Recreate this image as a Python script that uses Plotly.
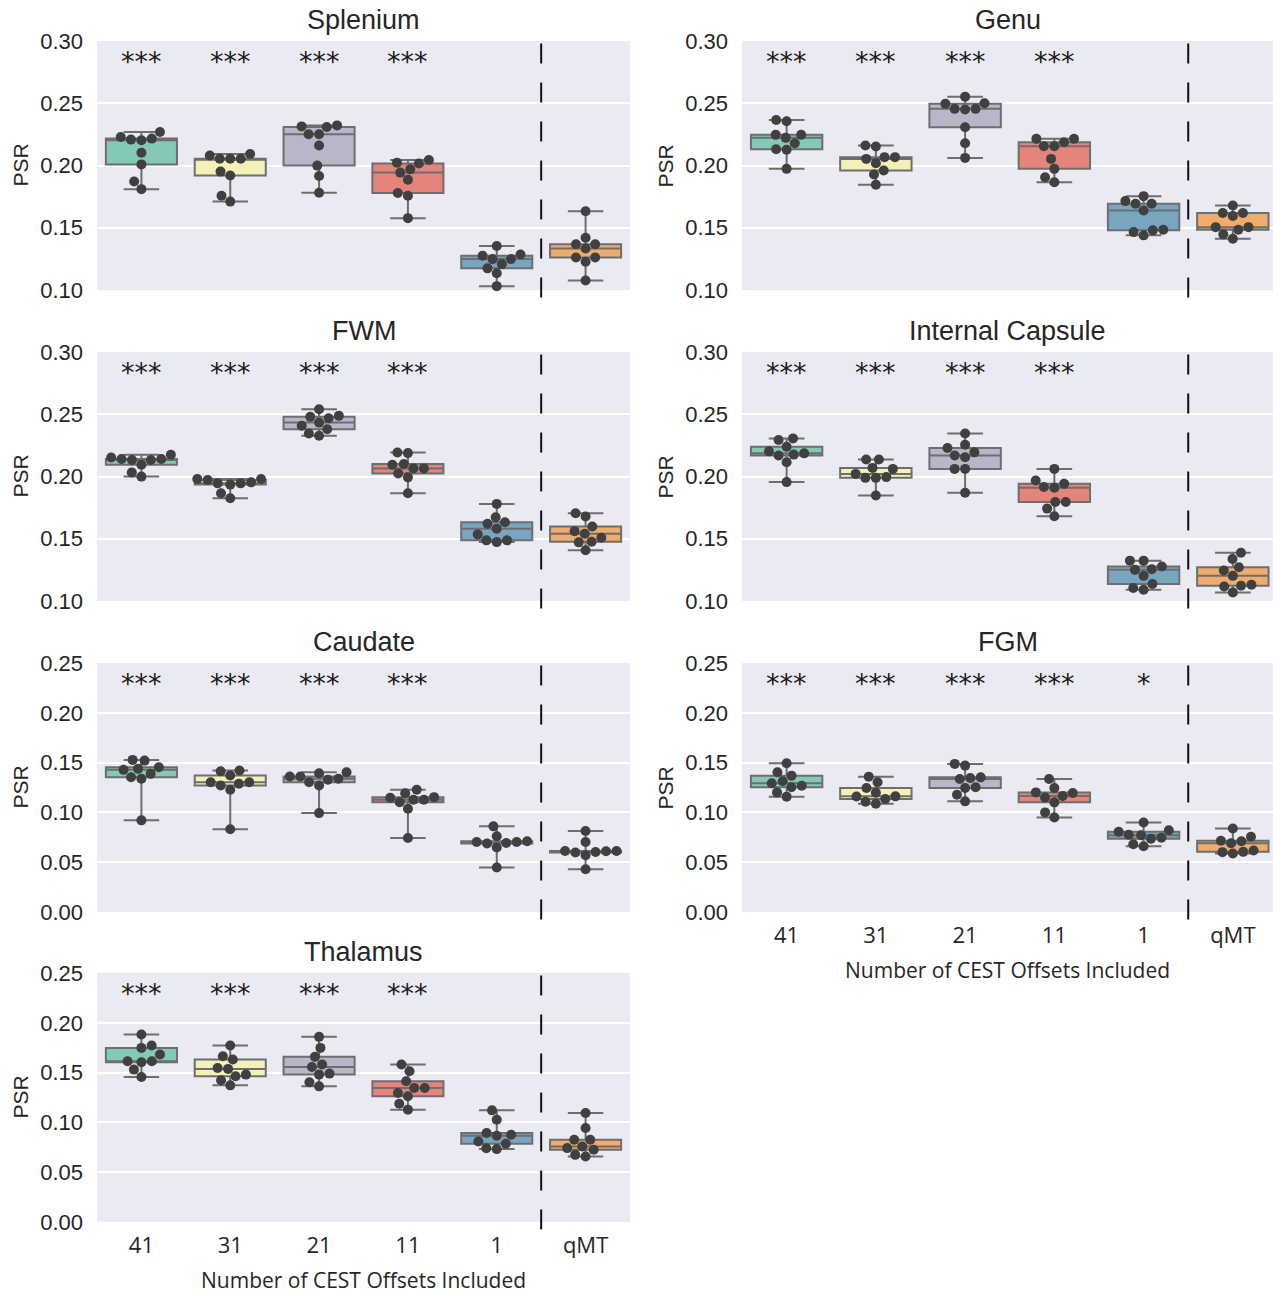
import numpy as np
import plotly.graph_objects as go

# ---------------- data ----------------
categories = ["41", "31", "21", "11", "1", "qMT"]
region_names = ["Splenium", "Genu", "FWM", "Internal Capsule", "Caudate", "FGM", "Thalamus"]

splenium = [
    [0.2269, 0.2229, 0.2208, 0.2203, 0.2216, 0.2102, 0.2009, 0.1871, 0.1810],
    [0.2081, 0.2054, 0.2054, 0.2054, 0.2092, 0.1951, 0.1919, 0.1757, 0.1710],
    [0.2322, 0.2309, 0.2314, 0.2251, 0.2251, 0.2160, 0.1999, 0.1916, 0.1781],
    [0.2044, 0.2017, 0.2023, 0.1943, 0.1969, 0.1885, 0.1779, 0.1757, 0.1577],
    [0.1354, 0.1285, 0.1248, 0.1248, 0.1275, 0.1174, 0.1208, 0.1134, 0.1031],
    [0.1633, 0.1420, 0.1367, 0.1367, 0.1333, 0.1261, 0.1261, 0.1227, 0.1076],
]
genu = [
    [0.2366, 0.2356, 0.2222, 0.2246, 0.2246, 0.2179, 0.2131, 0.2126, 0.1973],
    [0.2160, 0.2152, 0.2067, 0.2053, 0.2067, 0.2019, 0.1960, 0.1928, 0.1845],
    [0.2553, 0.2500, 0.2495, 0.2455, 0.2455, 0.2450, 0.2307, 0.2179, 0.2061],
    [0.2214, 0.2214, 0.2155, 0.2155, 0.2187, 0.2053, 0.1973, 0.1906, 0.1866],
    [0.1754, 0.1693, 0.1693, 0.1714, 0.1639, 0.1479, 0.1465, 0.1439, 0.1484],
    [0.1679, 0.1618, 0.1618, 0.1594, 0.1505, 0.1505, 0.1484, 0.1447, 0.1412],
]
fwm = [
    [0.2175, 0.2140, 0.2132, 0.2132, 0.2140, 0.2153, 0.2095, 0.2033, 0.1999],
    [0.1980, 0.1972, 0.1945, 0.1935, 0.1945, 0.1953, 0.1980, 0.1865, 0.1825],
    [0.2540, 0.2479, 0.2468, 0.2487, 0.2433, 0.2407, 0.2380, 0.2345, 0.2327],
    [0.2193, 0.2188, 0.2100, 0.2095, 0.2065, 0.2065, 0.2025, 0.1993, 0.1865],
    [0.1780, 0.1673, 0.1633, 0.1620, 0.1580, 0.1535, 0.1487, 0.1487, 0.1473],
    [0.1705, 0.1679, 0.1599, 0.1561, 0.1540, 0.1508, 0.1476, 0.1471, 0.1407],
]
internal_capsule = [
    [0.2306, 0.2293, 0.2239, 0.2202, 0.2168, 0.2176, 0.2186, 0.2114, 0.1955],
    [0.2136, 0.2136, 0.2061, 0.2069, 0.2021, 0.1989, 0.1989, 0.1995, 0.1848],
    [0.2346, 0.2255, 0.2229, 0.2194, 0.2168, 0.2154, 0.2061, 0.2061, 0.1870],
    [0.2061, 0.1968, 0.1941, 0.1915, 0.1910, 0.1795, 0.1795, 0.1742, 0.1681],
    [0.1324, 0.1324, 0.1277, 0.1250, 0.1255, 0.1202, 0.1136, 0.1104, 0.1090],
    [0.1388, 0.1338, 0.1271, 0.1245, 0.1202, 0.1117, 0.1122, 0.1130, 0.1069],
]
caudate = [
    [0.1527, 0.1520, 0.1427, 0.1437, 0.1453, 0.1387, 0.1353, 0.1337, 0.0920],
    [0.1420, 0.1413, 0.1370, 0.1303, 0.1287, 0.1270, 0.1303, 0.1227, 0.0830],
    [0.1403, 0.1393, 0.1360, 0.1360, 0.1337, 0.1327, 0.1303, 0.1270, 0.0993],
    [0.1227, 0.1193, 0.1147, 0.1153, 0.1127, 0.1127, 0.1103, 0.1037, 0.0743],
    [0.0860, 0.0760, 0.0703, 0.0687, 0.0693, 0.0703, 0.0710, 0.0647, 0.0447],
    [0.0813, 0.0703, 0.0613, 0.0613, 0.0597, 0.0603, 0.0610, 0.0570, 0.0430],
]
fgm = [
    [0.1493, 0.1403, 0.1369, 0.1312, 0.1292, 0.1268, 0.1252, 0.1201, 0.1158],
    [0.1359, 0.1302, 0.1245, 0.1198, 0.1160, 0.1161, 0.1134, 0.1107, 0.1087],
    [0.1487, 0.1470, 0.1352, 0.1346, 0.1336, 0.1252, 0.1245, 0.1178, 0.1111],
    [0.1336, 0.1245, 0.1201, 0.1195, 0.1165, 0.1150, 0.1101, 0.1000, 0.0950],
    [0.0899, 0.0820, 0.0805, 0.0775, 0.0770, 0.0745, 0.0735, 0.0680, 0.0660],
    [0.0839, 0.0755, 0.0715, 0.0711, 0.0691, 0.0617, 0.0601, 0.0604, 0.0587],
]
thalamus = [
    [0.1883, 0.1772, 0.1748, 0.1681, 0.1614, 0.1614, 0.1604, 0.1530, 0.1456],
    [0.1772, 0.1664, 0.1631, 0.1547, 0.1537, 0.1480, 0.1463, 0.1423, 0.1372],
    [0.1859, 0.1748, 0.1658, 0.1581, 0.1557, 0.1490, 0.1480, 0.1403, 0.1362],
    [0.1581, 0.1513, 0.1413, 0.1346, 0.1346, 0.1295, 0.1262, 0.1188, 0.1128],
    [0.1121, 0.1027, 0.0893, 0.0866, 0.0876, 0.0809, 0.0785, 0.0740, 0.0732],
    [0.1094, 0.0943, 0.0826, 0.0826, 0.0758, 0.0742, 0.0725, 0.0674, 0.0658],
]

significance = [
    ["***", "***", "***", "***", "", ""],   # Splenium
    ["***", "***", "***", "***", "", ""],   # Genu
    ["***", "***", "***", "***", "", ""],   # FWM
    ["***", "***", "***", "***", "", ""],   # Internal Capsule
    ["***", "***", "***", "***", "", ""],   # Caudate
    ["***", "***", "***", "***", "*", ""],  # FGM
    ["***", "***", "***", "***", "", ""],   # Thalamus
]
y_ranges = [(0.10, 0.30), (0.10, 0.30), (0.10, 0.30), (0.10, 0.30),
            (0.0, 0.25), (0.0, 0.25), (0.0, 0.25)]

region_data = [splenium, genu, fwm, internal_capsule, caudate, fgm, thalamus]

# ---------------- style ----------------
box_colors = ["#84c8b6", "#f4f1b8", "#b8b7c9", "#e4847a", "#78a6c1", "#efac6c"]
box_line = "#6e6e6e"
dot_color = "#404040"
bg = "#eaeaf2"

W, H = 1273, 1293
col_px = [(97, 630), (742, 1273)]
col_range = [(-0.5, 5.5), (-0.5, 5.45)]
row_px = [(41, 290), (352, 601), (663, 912), (973, 1222)]

MARKER = 10
SWARM_D = 10.5


def swarm_offsets(vals, ypx, d):
    vals = np.asarray(vals, dtype=float)
    order = np.argsort(vals, kind="stable")
    placed = []
    offs = np.zeros(len(vals))
    for idx in order:
        y = vals[idx] * ypx
        cands = [0.0]
        left_first = True
        for (px, py) in placed:
            dy = y - py
            if abs(dy) < d:
                dx = np.sqrt(d * d - dy * dy)
                pair = [px - dx, px + dx] if left_first else [px + dx, px - dx]
                cands.extend(pair)
                left_first = not left_first
        cands_sorted = sorted(cands, key=lambda c: abs(c))
        chosen = cands_sorted[-1]
        for c in cands_sorted:
            if all((c - px) ** 2 + (y - py) ** 2 >= d * d - 1e-6 for px, py in placed):
                chosen = c
                break
        placed.append((chosen, y))
        offs[idx] = chosen
    return offs


fig = go.Figure()
layout = dict(
    template="none",
    width=W, height=H,
    margin=dict(l=0, r=0, t=0, b=0, autoexpand=False),
    paper_bgcolor="white",
    plot_bgcolor=bg,
    showlegend=False,
    font=dict(family="Liberation Sans, Arial, sans-serif", color="#262626"),
)
annotations = []
shapes = []

for k, (name, data) in enumerate(zip(region_names, region_data)):
    r, c = k // 2, k % 2
    n = k + 1
    xa = "x" if n == 1 else f"x{n}"
    ya = "y" if n == 1 else f"y{n}"
    xlo, xhi = col_px[c]
    ytop, ybot = row_px[r]
    xr = col_range[c]
    yr = y_ranges[k]
    xpx = (xhi - xlo) / (xr[1] - xr[0])
    ypx = (ybot - ytop) / (yr[1] - yr[0])

    for i, vals in enumerate(data):
        v = np.asarray(vals, dtype=float)
        q1, med, q3 = np.percentile(v, [25, 50, 75])
        fig.add_trace(go.Box(
            x=[i], q1=[q1], median=[med], q3=[q3],
            lowerfence=[v.min()], upperfence=[v.max()],
            width=0.8, whiskerwidth=0.5,
            fillcolor=box_colors[i],
            line=dict(color=box_line, width=2),
            boxpoints=False, hoverinfo="skip",
            xaxis=xa, yaxis=ya,
        ))
        offs = swarm_offsets(v, ypx, SWARM_D)
        fig.add_trace(go.Scatter(
            x=i + offs / xpx, y=v, mode="markers",
            marker=dict(size=MARKER, color=dot_color, line=dict(width=0)),
            xaxis=xa, yaxis=ya, hoverinfo="skip", cliponaxis=False,
        ))

    bottom_row = (k == 6) or (k == 5)
    layout["xaxis" if n == 1 else f"xaxis{n}"] = dict(
        domain=[xlo / W, xhi / W], anchor=ya, range=list(xr), automargin=False,
        showgrid=False, zeroline=False, showline=False, ticks="",
        tickvals=list(range(len(categories))), ticktext=categories,
        showticklabels=bottom_row, ticklabelstandoff=8,
        tickfont=dict(family="Open Sans, sans-serif", size=22, color="#262626"),
    )
    layout["yaxis" if n == 1 else f"yaxis{n}"] = dict(
        domain=[1 - ybot / H, 1 - ytop / H], anchor=xa, range=list(yr), automargin=False,
        dtick=0.05, tick0=0, tickformat=".2f",
        showgrid=True, gridcolor="white", gridwidth=1.5,
        zeroline=False, showline=False, ticks="", ticklabelstandoff=13,
        tickfont=dict(size=22, color="#262626"),
    )

    # title
    annotations.append(dict(
        text=name, xref=f"{xa} domain", yref=f"{ya} domain", x=0.5, y=1,
        xanchor="center", yanchor="bottom", yshift=4, showarrow=False,
        font=dict(size=27, color="#262626"),
    ))
    # PSR label
    annotations.append(dict(
        text="PSR", xref="paper", yref=f"{ya} domain",
        x=(20 if c == 0 else 665) / W, y=0.5, xanchor="center", yanchor="middle",
        textangle=-90, showarrow=False, font=dict(size=21, color="#262626"),
    ))
    # significance stars
    for i, s in enumerate(significance[k]):
        if s:
            annotations.append(dict(
                text=s, xref=xa, yref=f"{ya} domain", x=i, y=1,
                xanchor="center", yanchor="top", yshift=-3, showarrow=False,
                font=dict(family="DejaVu Sans, sans-serif", size=27, color="#1a1a1a"),
            ))
    # x-axis title
    if bottom_row:
        annotations.append(dict(
            text="Number of CEST Offsets Included", xref=f"{xa} domain", yref=f"{ya} domain",
            x=0.5, y=0, xanchor="center", yanchor="top", yshift=-42, showarrow=False,
            font=dict(family="Open Sans, sans-serif", size=21, color="#262626"),
        ))
    # dashed separator
    shapes.append(dict(
        type="line", xref=xa, yref=f"{ya} domain", x0=4.5, x1=4.5, y0=-0.03, y1=1,
        line=dict(color="#111111", width=2, dash="20px,19px"), layer="above",
    ))

layout["annotations"] = annotations
layout["shapes"] = shapes
fig.update_layout(**layout)
fig.write_html(
    "out.html",
    config={"displayModeBar": False},
    post_script="document.body.style.margin='0px';document.body.style.overflow='hidden';",
)
